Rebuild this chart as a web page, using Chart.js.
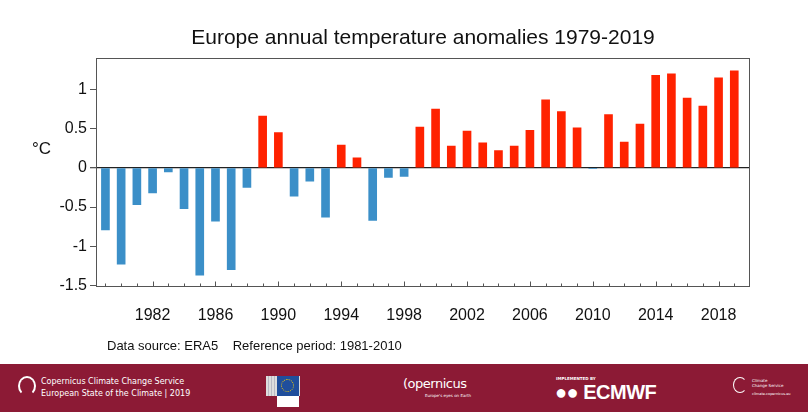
<!DOCTYPE html>
<html>
<head>
<meta charset="utf-8">
<script src="https://cdn.jsdelivr.net/npm/chart.js@4"></script>
<style>
  html, body { margin: 0; padding: 0; background: #fff; }
  body { width: 808px; height: 412px; position: relative; overflow: hidden; font-family: "Liberation Sans", Arial, sans-serif; }
  #wrap { position: absolute; left: 0; top: 0; width: 808px; height: 364px; }
  #unit { position: absolute; left: 32px; top: 139px; font-size: 17px; color: #111; }
  #source { position: absolute; left: 107px; top: 338px; font-size: 13px; color: #111; }
  #footer { position: absolute; left: 0; top: 364px; width: 808px; height: 48px; background: #8c1a35; color: #fff; }
  .f { position: absolute; white-space: nowrap; }
</style>
</head>
<body>
<div id="wrap"><canvas id="chart"></canvas></div>
<div id="unit">°C</div>
<div id="source">Data source: ERA5&nbsp;&nbsp;&nbsp;&nbsp;Reference period: 1981-2010</div>
<div id="footer">
  <div class="f" style="left:18px;top:12px;width:14px;height:16px;border:2px solid #fff;border-radius:50%;border-bottom-color:transparent;"></div>
  <div class="f" style="left:41px;top:12px;font:8px 'DejaVu Sans',sans-serif;line-height:12px;">Copernicus Climate Change Service<br>European State of the Climate | 2019</div>
  <div class="f" style="left:266px;top:12px;width:34px;height:20px;background:repeating-linear-gradient(90deg,#ddd 0 2px,#b9b9c4 2px 3px);"></div>
  <div class="f" style="left:277px;top:12px;width:22px;height:20px;background:#1f4e9c;"></div>
  <div class="f" style="left:281px;top:15px;width:11px;height:11px;border:1.5px dotted #ffd200;border-radius:50%;"></div>
  <div class="f" style="left:277px;top:32px;width:22px;height:11px;background:#fff;"></div>
  <div class="f" style="left:403px;top:12px;font:13px 'DejaVu Sans',sans-serif;letter-spacing:-0.5px;">(opernicus</div>
  <div class="f" style="left:425px;top:29px;font:4px 'DejaVu Sans',sans-serif;">Europe's eyes on Earth</div>
  <div class="f" style="left:556px;top:12px;font:bold 4px 'DejaVu Sans',sans-serif;">IMPLEMENTED BY</div>
  <div class="f" style="left:555px;top:17px;font:bold 20px 'Liberation Sans',Arial,sans-serif;letter-spacing:-0.5px;">&#x25CF;&#x25CF; ECMWF</div>
  <div class="f" style="left:733px;top:13px;width:12px;height:14px;border:1.5px solid #fff;border-radius:50%;border-right-color:transparent;"></div>
  <div class="f" style="left:752px;top:14px;font:4px 'DejaVu Sans',sans-serif;line-height:5px;">Climate<br>Change Service</div>
  <div class="f" style="left:752px;top:28px;font:3.5px 'DejaVu Sans',sans-serif;">climate.copernicus.eu</div>
</div>
<script>
// Europe annual temperature anomalies (°C vs 1981-2010), ERA5
const years = [
  1979, 1980, 1981, 1982, 1983, 1984, 1985, 1986, 1987, 1988,
  1989, 1990, 1991, 1992, 1993, 1994, 1995, 1996, 1997, 1998,
  1999, 2000, 2001, 2002, 2003, 2004, 2005, 2006, 2007, 2008,
  2009, 2010, 2011, 2012, 2013, 2014, 2015, 2016, 2017, 2018, 2019,
];
const anomalies = [
  -0.79, -1.23, -0.47, -0.32, -0.05, -0.52, -1.37, -0.68, -1.30, -0.25,
  0.66, 0.45, -0.36, -0.17, -0.63, 0.29, 0.13, -0.67, -0.12, -0.11,
  0.52, 0.75, 0.28, 0.47, 0.32, 0.22, 0.28, 0.48, 0.87, 0.72,
  0.51, -0.01, 0.68, 0.33, 0.56, 1.18, 1.20, 0.89, 0.79, 1.15, 1.24,
];
const xTickLabels = [1982, 1986, 1990, 1994, 1998, 2002, 2006, 2010, 2014, 2018];
const yTicks = [-1.5, -1, -0.5, 0, 0.5, 1];

const WARM = "#ff2200";
const COLD = "#3b8fc8";
const FONT = "'Liberation Sans', Arial, sans-serif";

// box round the plot + short inward ticks on the bottom axis
const frame = {
  id: "frame",
  afterDatasetsDraw(chart) {
    const { ctx, chartArea: a, scales } = chart;
    ctx.save();
    ctx.strokeStyle = "#555";
    ctx.lineWidth = 1;
    ctx.strokeRect(Math.round(a.left) + 0.5, Math.round(a.top) + 0.5,
      Math.round(a.width) - 1, Math.round(a.height) - 1);
    const bottom = Math.round(a.bottom) - 0.5;
    ctx.beginPath();
    years.forEach((yr) => {
      const px = Math.round(scales.x.getPixelForValue(yr)) + 0.5;
      const len = xTickLabels.includes(yr) ? 5 : 3;
      ctx.moveTo(px, bottom);
      ctx.lineTo(px, bottom - len);
    });
    ctx.stroke();
    ctx.restore();
  },
};

new Chart(document.getElementById("chart"), {
  type: "bar",
  data: {
    datasets: [
      {
        data: years.map((yr, i) => ({ x: yr, y: anomalies[i] })),
        backgroundColor: anomalies.map((v) => (v >= 0 ? WARM : COLD)),
        borderWidth: 0,
        barThickness: 8,
      },
    ],
  },
  options: {
    responsive: true,
    maintainAspectRatio: false,
    animation: false,
    layout: { padding: { left: 0, right: 58, top: 0, bottom: 0 } },
    plugins: {
      legend: { display: false },
      tooltip: { enabled: false },
      title: {
        display: true,
        fullSize: false,
        text: "Europe annual temperature anomalies 1979-2019",
        color: "#111",
        font: { family: FONT, size: 21, weight: "normal" },
        padding: { top: 26, bottom: 7 },
      },
    },
    scales: {
      x: {
        type: "linear",
        min: 1978.4,
        max: 2020,
        offset: false,
        grid: { display: false, drawTicks: false },
        border: { display: false },
        afterBuildTicks: (scale) => {
          scale.ticks = years.map((v) => ({ value: v }));
        },
        afterFit: (scale) => {
          scale.height = 77;
        },
        ticks: {
          autoSkip: false,
          maxRotation: 0,
          padding: 19,
          color: "#111",
          font: { family: FONT, size: 16 },
          callback: (v) => (xTickLabels.includes(v) ? String(v) : ""),
        },
      },
      y: {
        min: -1.52,
        max: 1.4,
        border: { display: false },
        grid: {
          drawOnChartArea: true,
          color: (c) => (c.tick && c.tick.value === 0 ? "#222" : "rgba(0,0,0,0)"),
          lineWidth: (c) => (c.tick && c.tick.value === 0 ? 1.3 : 1),
          tickColor: "#555",
          tickLength: 6,
        },
        afterBuildTicks: (scale) => {
          scale.ticks = yTicks.map((v) => ({ value: v }));
        },
        afterFit: (scale) => {
          scale.width = 96;
        },
        ticks: {
          padding: 3,
          color: "#111",
          font: { family: FONT, size: 16 },
          callback: (v) => String(v),
        },
      },
    },
  },
  plugins: [frame],
});
</script>
</body>
</html>
